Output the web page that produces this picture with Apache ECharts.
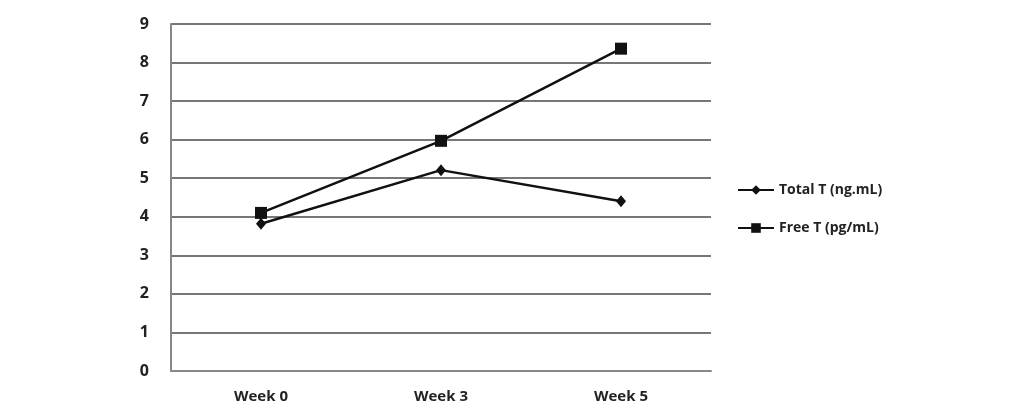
<!DOCTYPE html>
<html>
<head>
<meta charset="utf-8">
<script src="https://cdn.jsdelivr.net/npm/echarts@6/dist/echarts.min.js"></script>
<style>
html,body{margin:0;padding:0;background:#fff;}
#chart{width:1024px;height:418px;}
</style>
</head>
<body>
<div id="chart"></div>
<script>
const categories = ['Week 0', 'Week 3', 'Week 5'];
const totalT = [3.82, 5.21, 4.40];
const freeT = [4.10, 5.97, 8.36];
const yTicks = [0, 1, 2, 3, 4, 5, 6, 7, 8, 9];
const seriesNames = ['Total T (ng.mL)', 'Free T (pg/mL)'];

const chart = echarts.init(document.getElementById('chart'));
const font = '"Open Sans", "Liberation Sans", sans-serif';
chart.setOption({
  animation: false,
  backgroundColor: '#fff',
  grid: {left: 171, right: 313, top: 24, bottom: 47, containLabel: false},
  legend: {
    orient: 'vertical', left: 732, top: 178, itemGap: 24,
    itemWidth: 36, itemHeight: 12,
    textStyle: {fontFamily: font, fontSize: 14, fontWeight: 'bold', color: '#222'},
    data: seriesNames
  },
  xAxis: {
    type: 'category', data: categories, boundaryGap: true,
    axisLine: {lineStyle: {color: '#888', width: 2}},
    axisTick: {show: false},
    axisLabel: {fontFamily: font, fontSize: 15, fontWeight: 'bold', color: '#222', margin: 18}
  },
  yAxis: {
    type: 'value', min: yTicks[0], max: yTicks[yTicks.length-1], interval: 1,
    axisLine: {show: true, lineStyle: {color: '#888', width: 2}},
    axisTick: {show: false},
    axisLabel: {fontFamily: font, fontSize: 16, fontWeight: 'bold', color: '#222', margin: 22},
    splitLine: {lineStyle: {color: '#777', width: 2}}
  },
  series: [
    {
      name: seriesNames[0], type: 'line', data: totalT,
      symbol: 'diamond', symbolSize: [10, 12],
      lineStyle: {color: '#111', width: 2.5},
      itemStyle: {color: '#111'}
    },
    {
      name: seriesNames[1], type: 'line', data: freeT,
      symbol: 'rect', symbolSize: 12,
      lineStyle: {color: '#111', width: 2.5},
      itemStyle: {color: '#111'}
    }
  ]
});
</script>
</body>
</html>
